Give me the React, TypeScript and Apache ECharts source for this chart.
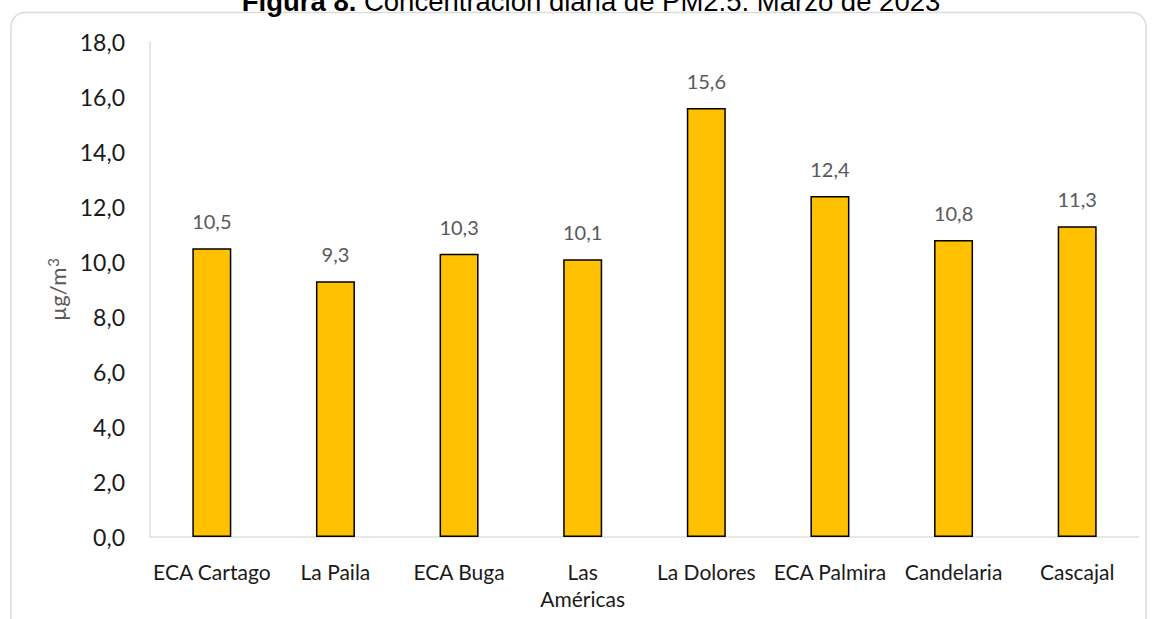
import React, { useEffect, useRef } from "react";
import * as echarts from "echarts";

const stations = [
  "ECA Cartago",
  "La Paila",
  "ECA Buga",
  "Las Américas",
  "La Dolores",
  "ECA Palmira",
  "Candelaria",
  "Cascajal",
];
const pm25 = [10.5, 9.3, 10.3, 10.1, 15.6, 12.4, 10.8, 11.3];
const yTicks = { min: 0, max: 18, interval: 2 };

const FONT = "Lato, 'Open Sans', sans-serif";

export default function App() {
  const ref = useRef<HTMLDivElement>(null);

  useEffect(() => {
    if (!ref.current) return;
    const chart = echarts.init(ref.current, null, { renderer: "svg" });
    const fmt = (v: number) => v.toFixed(1).replace(".", ",");
    chart.setOption({
      animation: false,
      backgroundColor: "#ffffff",
      graphic: [
        {
          type: "rect",
          shape: { x: 11, y: 12.5, width: 1135, height: 640, r: 14 },
          style: { fill: "none", stroke: "#dcdcdc", lineWidth: 1.5 },
          z: 0,
        },
        {
          type: "text",
          x: 591,
          y: 15,
          style: {
            text: "{b|Figura 8.} Concentración diaria de PM2.5. Marzo de 2023",
            align: "center",
            verticalAlign: "bottom",
            font: "27.5px 'Liberation Sans', Arial, sans-serif",
            fill: "#000",
            rich: {
              b: { fontWeight: "bold", fontSize: 27.5, fontFamily: "'Liberation Sans', Arial, sans-serif" },
            },
          },
        },
      ],
      grid: { left: 150, right: 14, top: 42, bottom: 82, containLabel: false },
      xAxis: {
        type: "category",
        data: stations,
        axisLine: { lineStyle: { color: "#e3e0d8", width: 1.5 } },
        axisTick: { show: false },
        axisLabel: {
          color: "#1a1a1a",
          fontSize: 21,
          fontFamily: FONT,
          margin: 21,
          lineHeight: 27,
          interval: 0,
          formatter: (v: string) => (v === "Las Américas" ? "Las\nAméricas" : v),
        },
      },
      yAxis: {
        type: "value",
        min: yTicks.min,
        max: yTicks.max,
        interval: yTicks.interval,
        name: "µg/m{sup|3}",
        nameLocation: "middle",
        nameGap: 78,
        nameTextStyle: {
          color: "#595959",
          fontSize: 22,
          fontFamily: FONT,
          rich: {
            sup: { fontSize: 15, color: "#595959", fontFamily: FONT, verticalAlign: "top", padding: [0, 0, 10, 1] },
          },
        },
        axisLine: { show: true, lineStyle: { color: "#e3e0d8", width: 1.5 } },
        axisTick: { show: false },
        splitLine: { show: false },
        axisLabel: {
          color: "#1a1a1a",
          fontSize: 23,
          fontFamily: FONT,
          margin: 25,
          formatter: (v: number) => fmt(v),
        },
      },
      series: [
        {
          type: "bar",
          data: pm25,
          barWidth: 39,
          itemStyle: { color: "#FFC000", borderColor: "#000", borderWidth: 1.5 },
          label: {
            show: true,
            position: "top",
            distance: 17,
            color: "#595959",
            fontSize: 20,
            fontFamily: FONT,
            formatter: (p: any) => fmt(p.value),
          },
        },
      ],
    });
    return () => chart.dispose();
  }, []);

  return (
    <div
      ref={ref}
      style={{ position: "fixed", left: 0, top: 0, width: 1153, height: 619 }}
    />
  );
}
